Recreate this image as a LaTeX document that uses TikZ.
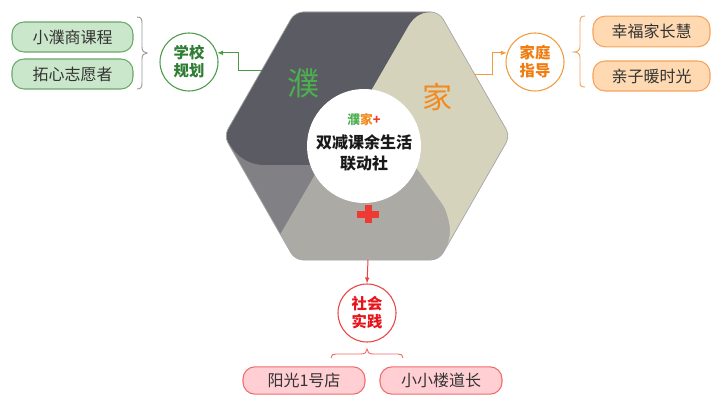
\documentclass[tikz,border=0pt]{standalone}
\usepackage{fontspec}
\setmainfont{Noto Sans CJK SC}
\usetikzlibrary{arrows.meta}
\definecolor{darkhex}{HTML}{5B5B63}
\definecolor{beigehex}{HTML}{D6D3BD}
\definecolor{lighthex}{HTML}{ABAAA5}
\definecolor{medhex}{HTML}{818185}
\definecolor{gfill}{HTML}{CBE7CB}
\definecolor{gline}{HTML}{6AA86A}
\definecolor{gtext}{HTML}{2E7D32}
\definecolor{gcirc}{HTML}{4A9A4A}
\definecolor{gbig}{HTML}{4CAF50}
\definecolor{ofill}{HTML}{FED9B2}
\definecolor{oline}{HTML}{F5A25D}
\definecolor{otext}{HTML}{F07C0F}
\definecolor{ocirc}{HTML}{F39A3D}
\definecolor{obig}{HTML}{F28A1E}
\definecolor{rfill}{HTML}{FFCFD4}
\definecolor{rline}{HTML}{F26B6B}
\definecolor{rtext}{HTML}{E8141B}
\definecolor{rcirc}{HTML}{E94545}
\definecolor{rplus}{HTML}{EE3A32}
\definecolor{boxtext}{HTML}{333333}
\tikzset{
  leafbox/.style={rounded corners=9pt, line width=0.8pt, text=boxtext,
    font=\fontsize{12}{14}\selectfont, inner sep=0pt},
  catcirc/.style={circle, line width=0.8pt, fill=white, minimum size=43.5pt,
    inner sep=0pt, align=center, font=\fontsize{11.5}{13.5}\selectfont\bfseries},
  conn/.style={line width=0.75pt, -{Latex[length=4.5pt,width=3.5pt]}},
  bracepath/.style={line width=0.7pt}
}
\begin{document}
\begin{tikzpicture}[x=0.75pt,y=-0.75pt]
\useasboundingbox (0,0) rectangle (712,395);

% ---------- hexagon ----------
\begin{scope}
\clip[rounded corners=6pt] (224,136) -- (295,12) -- (439,12) -- (510,136) -- (439,260) -- (295,260) -- cycle;
\fill[lighthex] (200,0) rectangle (520,270);
\fill[medhex] (200,100) -- (335,100) -- (335,140) -- (268,255) -- (200,255) -- cycle;
\fill[beigehex] (354,120) -- (406,30) .. controls (412,19) and (418,12) .. (432,12) -- (432,0) -- (520,0) -- (520,270)
  -- (442,270) -- (442,258) .. controls (448,245) and (452,235) .. (449,222) .. controls (447,214) and (446,210) .. (443,205)
  -- (400,145) -- cycle;
\fill[darkhex] (200,0) -- (432,0) -- (432,12) .. controls (418,12) and (412,19) .. (406,30) -- (354,120) -- (340,165)
  -- (265,165) .. controls (245,165) and (232,152) .. (225,136) -- (200,136) -- cycle;
\end{scope}
\draw[black!35, line width=0.5pt, rounded corners=6pt] (224,136) -- (295,12) -- (439,12) -- (510,136) -- (439,260) -- (295,260) -- cycle;

\node[circle, fill=white, minimum size=85.5pt, inner sep=0pt] (core) at (364,146) {};
\node[font=\fontsize{9.5}{11}\selectfont\bfseries] (coretop) at (364,120)
  {\textcolor{gbig}{濮}\textcolor{obig}{家}\textcolor{rplus}{+}};
\node[font=\fontsize{12}{14}\selectfont\bfseries, text=black!90] (coremid) at (364,142) {双减课余生活};
\node[font=\fontsize{12}{14}\selectfont\bfseries, text=black!90] (corebot) at (364,163) {联动社};

\node[font=\fontsize{24}{26}\selectfont, text=gbig] (bigpu) at (303,83) {濮};
\node[font=\fontsize{22.5}{24}\selectfont, text=obig] (bigjia) at (437,97) {家};
\fill[rplus] (357,211) rectangle (379,218);
\fill[rplus] (364.5,205) rectangle (371.5,223);

% ---------- anchors on hexagon ----------
\coordinate (hexleft) at (262,71);
\coordinate (hexright) at (475,75);
\coordinate (hexbottom) at (368,260);

% ---------- category circles ----------
\node[catcirc, draw=gcirc, text=gtext] (school) at (189,62) {学校\\规划};
\node[catcirc, draw=ocirc, text=otext] (family) at (535,62) {家庭\\指导};
\node[catcirc, draw=rcirc, text=rtext] (society) at (367,313) {社会\\实践};

\draw[conn, draw=gcirc] (hexleft) -- (238,71) |- (school.18);
\draw[conn, draw=ocirc] (hexright) -- (492,75) |- (family.162);
\draw[conn, draw=rcirc] (hexbottom) -- (society.north);

% ---------- leaf boxes ----------
\node[leafbox, draw=gline, fill=gfill, minimum width=90.75pt, minimum height=22.5pt] (xpsk) at (72.5,37) {小濮商课程};
\node[leafbox, draw=gline, fill=gfill, minimum width=90.75pt, minimum height=22.5pt] (txzy) at (72.5,74) {拓心志愿者};
\node[leafbox, draw=oline, fill=ofill, minimum width=87.75pt, minimum height=23pt] (xfjz) at (651.5,31.5) {幸福家长慧};
\node[leafbox, draw=oline, fill=ofill, minimum width=87.75pt, minimum height=22.5pt] (qznsg) at (651.5,76) {亲子暖时光};
\node[leafbox, draw=rline, fill=rfill, minimum width=91.5pt, minimum height=20.5pt] (ygd) at (304,380.5) {阳光1号店};
\node[leafbox, draw=rline, fill=rfill, minimum width=91.5pt, minimum height=20.5pt] (xxld) at (441,380.5) {小小楼道长};

% ---------- braces ----------
\draw[bracepath, draw=black!40] (137,17) .. controls (141,17) and (142,19) .. (142,23) -- (142,47)
  .. controls (142,51) and (144,53) .. (147,53) .. controls (144,53) and (142,55) .. (142,59) -- (142,83)
  .. controls (142,87) and (141,89) .. (137,89);
\draw[bracepath, draw=oline] (585,16) .. controls (581,16) and (580,18) .. (580,22) -- (580,46)
  .. controls (580,50) and (578,52) .. (574,52) .. controls (578,52) and (580,54) .. (580,58) -- (580,82)
  .. controls (580,86) and (581,87) .. (585,87);
\draw[bracepath, draw=rline] (331,358) .. controls (331,355) and (333,354) .. (336,354) -- (361,354)
  .. controls (365,354) and (367,352) .. (367,349) .. controls (367,352) and (369,354) .. (373,354) -- (398,354)
  .. controls (401,354) and (403,355) .. (403,358);
\end{tikzpicture}
\end{document}
